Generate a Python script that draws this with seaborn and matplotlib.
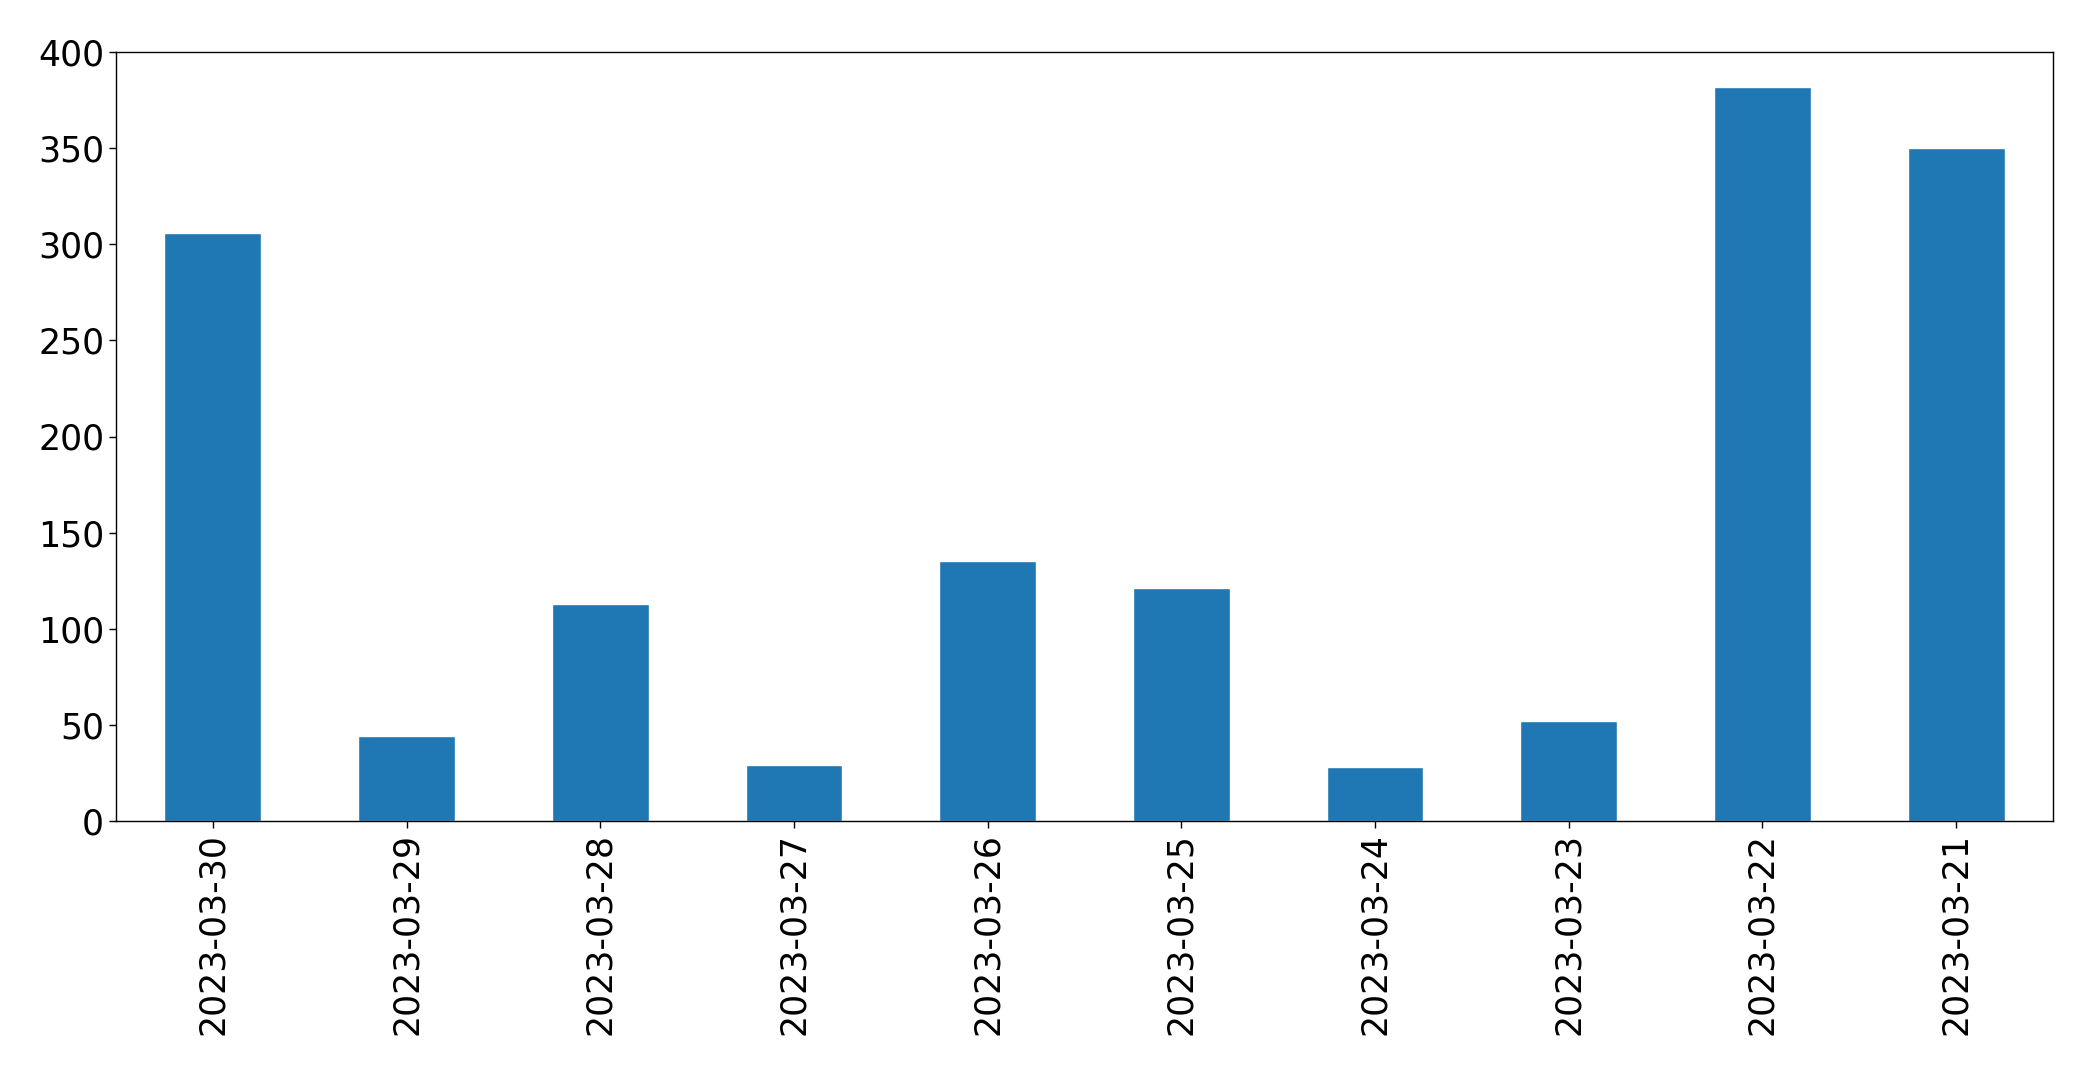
import matplotlib
matplotlib.use("Agg")
import matplotlib.pyplot as plt
import seaborn as sns
import pandas as pd

dates = ["2023-03-30", "2023-03-29", "2023-03-28", "2023-03-27", "2023-03-26",
         "2023-03-25", "2023-03-24", "2023-03-23", "2023-03-22", "2023-03-21"]
counts = [306, 44, 113, 29, 135, 121, 28, 52, 382, 350]

sns.set_style("ticks")
plt.rcParams["font.family"] = ["DejaVu Sans"]
plt.rcParams["axes.linewidth"] = 1.0

df = pd.DataFrame({"date": dates, "count": counts})

fig = plt.figure(figsize=(20.93, 10.73), dpi=100)
ax = fig.add_axes([116 / 2093, 1 - 821 / 1073, (2053 - 116) / 2093, (821 - 52) / 1073])
sns.barplot(data=df, x="date", y="count", order=dates, color="#1f77b4",
            saturation=1, width=0.5, ax=ax)
ax.set_xlim(-0.5, len(dates) - 0.5)
ax.set_ylim(0, 400)
ax.set_xlabel("")
ax.set_ylabel("")
for s in ax.spines.values():
    s.set_visible(True)
    s.set_color("black")
ax.tick_params(axis="both", labelsize=25, colors="black", length=5, width=1)
ax.tick_params(axis="x", labelrotation=90)
fig.savefig("out.png", dpi=100)
